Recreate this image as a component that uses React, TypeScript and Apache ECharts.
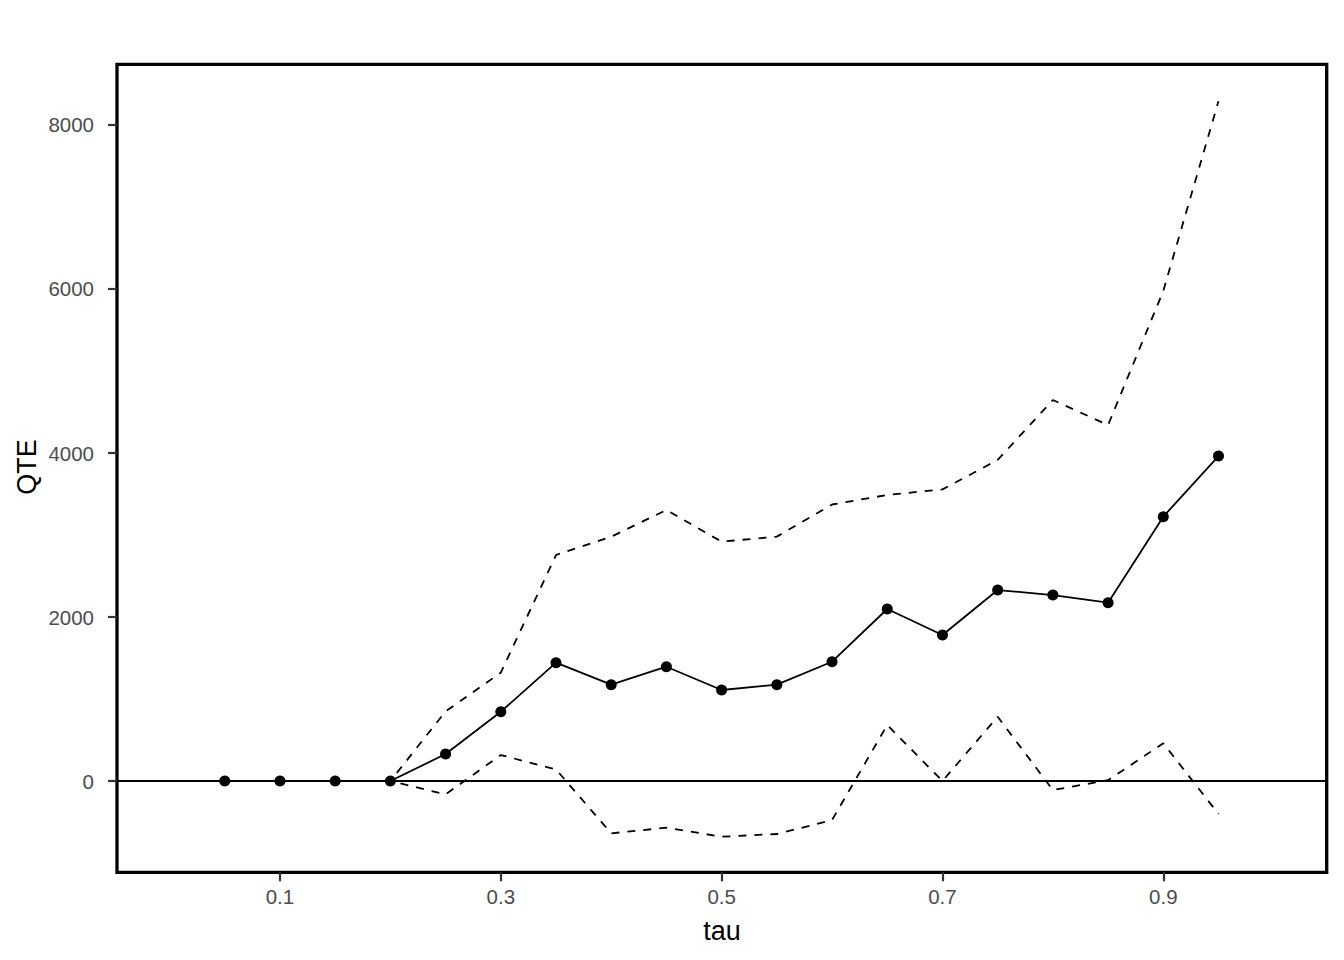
import React, { useEffect, useRef } from "react";
import * as echarts from "echarts";

const taus = [0.05, 0.1, 0.15, 0.2, 0.25, 0.3, 0.35, 0.4, 0.45, 0.5, 0.55, 0.6, 0.65, 0.7, 0.75, 0.8, 0.85, 0.9, 0.95];
const qte = [0, 0, 0, 0, 329, 845, 1443, 1175, 1394, 1110, 1175, 1455, 2098, 1780, 2329, 2268, 2175, 3224, 3963];
const upper = [0, 0, 0, 0, 850, 1321, 2756, 2980, 3305, 2919, 2980, 3372, 3488, 3557, 3915, 4646, 4341, 5976, 8290];
const lower = [0, 0, 0, 0, -163, 317, 142, -638, -569, -679, -646, -476, 683, 0, 784, -110, 10, 460, -402];

const xTicks = [0.1, 0.3, 0.5, 0.7, 0.9];
const yTicks = [0, 2000, 4000, 6000, 8000];

const X_MIN = -0.0476;
const X_MAX = 1.048;
const Y_MIN = -1113;
const Y_MAX = 8740;

const FONT = "'Liberation Sans', Arial, sans-serif";

export default function App() {
  const ref = useRef<HTMLDivElement>(null);
  useEffect(() => {
    if (!ref.current) return;
    const chart = echarts.init(ref.current, undefined, { renderer: "svg" });
    const pair = (arr: number[]) => taus.map((t, i) => [t, arr[i]]);
    chart.setOption({
      animation: false,
      backgroundColor: "#fff",
      grid: {
        left: 117,
        right: 17.3,
        top: 64.3,
        bottom: 87.7,
        show: true,
        borderColor: "#000",
        borderWidth: 3.3,
        backgroundColor: "transparent",
      },
      xAxis: {
        type: "value",
        min: X_MIN,
        max: X_MAX,
        axisLine: { show: false, onZero: false },
        splitLine: { show: false },
        axisTick: { show: true, customValues: xTicks, length: 9, lineStyle: { color: "#333", width: 2.2 } },
        axisLabel: {
          customValues: xTicks,
          color: "#4D4D4D",
          fontSize: 20.5,
          fontFamily: FONT,
          margin: 14,
          formatter: (v: number) => String(v),
        },
      },
      yAxis: {
        type: "value",
        min: Y_MIN,
        max: Y_MAX,
        axisLine: { show: false, onZero: false },
        splitLine: { show: false },
        axisTick: { show: true, customValues: yTicks, length: 9, lineStyle: { color: "#333", width: 2.2 } },
        axisLabel: {
          customValues: yTicks,
          color: "#4D4D4D",
          fontSize: 20.5,
          fontFamily: FONT,
          margin: 23,
          formatter: (v: number) => String(v),
        },
      },
      graphic: [
        {
          type: "text",
          x: 722,
          y: 931,
          style: {
            text: "tau",
            fontSize: 27,
            fontFamily: FONT,
            fill: "#000",
            align: "center",
            verticalAlign: "middle",
          },
        },
        {
          type: "text",
          x: 27,
          y: 467,
          rotation: Math.PI / 2,
          style: {
            text: "QTE",
            fontSize: 27,
            fontFamily: FONT,
            fill: "#000",
            align: "center",
            verticalAlign: "middle",
          },
        },
      ],
      series: [
        {
          type: "line",
          data: pair(upper),
          symbol: "none",
          lineStyle: { color: "#000", width: 1.8, type: [8, 8] },
          z: 2,
        },
        {
          type: "line",
          data: pair(lower),
          symbol: "none",
          lineStyle: { color: "#000", width: 1.8, type: [8, 8] },
          z: 2,
        },
        {
          type: "line",
          data: [],
          markLine: {
            silent: true,
            symbol: "none",
            label: { show: false },
            lineStyle: { color: "#000", width: 2, type: "solid" },
            data: [{ yAxis: 0 }],
          },
          z: 3,
        },
        {
          type: "line",
          data: pair(qte),
          symbol: "circle",
          symbolSize: 11,
          showAllSymbol: true,
          itemStyle: { color: "#000" },
          lineStyle: { color: "#000", width: 1.8 },
          z: 4,
        },
      ],
    });
    return () => chart.dispose();
  }, []);
  return (
    <div
      ref={ref}
      style={{ position: "fixed", left: 0, top: 0, width: 1344, height: 960, background: "#fff" }}
    />
  );
}
